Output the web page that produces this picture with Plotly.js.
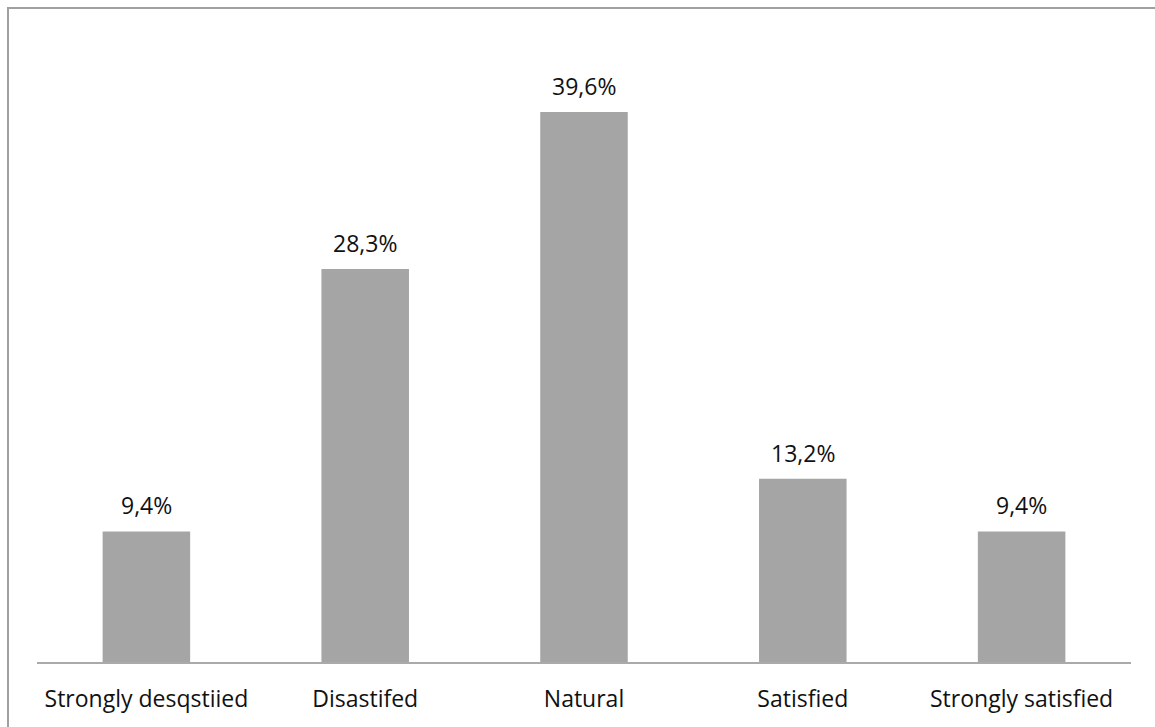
<!DOCTYPE html>
<html>
<head>
<meta charset="utf-8">
<script src="https://cdn.plot.ly/plotly-3.0.1.min.js"></script>
<style>
  html, body { margin: 0; padding: 0; background: #fff; overflow: hidden; }
  #frame { position: absolute; left: 7px; top: 7px; width: 1200px; height: 800px; border: 2px solid #a0a0a0; box-sizing: border-box; }
  #chart { position: absolute; left: 0; top: 0; width: 1155px; height: 727px; }
</style>
</head>
<body>
<div id="frame"></div>
<div id="chart"></div>
<script>
const categories = ["Strongly desqstiied", "Disastifed", "Natural", "Satisfied", "Strongly satisfied"];
const values = [9.4, 28.3, 39.6, 13.2, 9.4];
const labels = values.map(v => v.toFixed(1).replace(".", ",") + "%");

const FONT = "'Open Sans', sans-serif";

const trace = {
  type: "bar",
  x: categories,
  y: values,
  marker: { color: "#a5a5a5" },
  hoverinfo: "none"
};

const annotations = categories.map((c, i) => ({
  x: c, y: values[i], xref: "x", yref: "y",
  text: labels[i], showarrow: false,
  yanchor: "bottom", yshift: 8,
  font: { family: FONT, size: 23, color: "#111" }
}));

const layout = {
  width: 1155, height: 727,
  margin: { l: 37, r: 24, t: 37, b: 65 },
  paper_bgcolor: "rgba(0,0,0,0)",
  plot_bgcolor: "rgba(0,0,0,0)",
  bargap: 0.6,
  showlegend: false,
  xaxis: {
    showline: true, linecolor: "#aaaaaa", linewidth: 2,
    ticks: "", showgrid: false, zeroline: false,
    ticklabelstandoff: 15,
    tickfont: { family: FONT, size: 23, color: "#111" }
  },
  yaxis: {
    range: [0, 45], visible: false, showgrid: false, zeroline: false, fixedrange: true
  },
  annotations: annotations
};

Plotly.newPlot("chart", [trace], layout, { staticPlot: true, displayModeBar: false });
</script>
</body>
</html>
